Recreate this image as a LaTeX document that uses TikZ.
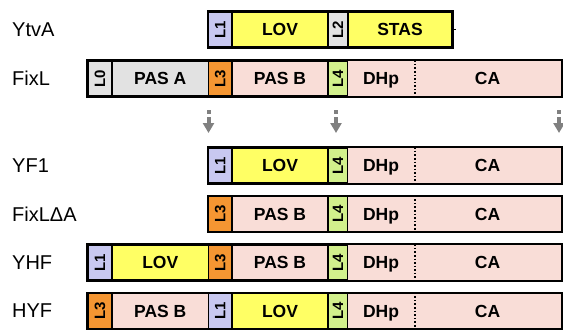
\documentclass[tikz,border=0pt]{standalone}
\usepackage{fontspec}
\setmainfont{Liberation Sans}
\usetikzlibrary{arrows.meta}

% domain colours
\definecolor{linkA}{RGB}{200,200,240}   % L1
\definecolor{lovY}{RGB}{255,255,100}    % LOV, STAS
\definecolor{greyD}{RGB}{226,226,226}   % L0, L2, PAS A
\definecolor{linkO}{RGB}{245,150,50}    % L3
\definecolor{pasP}{RGB}{249,221,215}    % PAS B, DHp, CA
\definecolor{linkG}{RGB}{210,240,140}   % L4
\definecolor{arrowG}{RGB}{128,128,128}

\tikzset{
  segbase/.style={draw=black, line width=1.7bp, minimum height=35bp, inner sep=0pt},
  seg/.style={segbase, text height=12.6bp, text depth=0pt,
              font=\fontsize{17.5bp}{20bp}\selectfont\bfseries},
  seglink/.style={segbase, font=\fontsize{15bp}{17bp}\selectfont\bfseries},
  rowframe/.style={draw=black, line width=2.1bp},
  rowname/.style={anchor=west, inner sep=0pt, font=\fontsize{20bp}{24bp}\selectfont},
  splitarrow/.style={draw=arrowG, line width=4bp, dash pattern=on 4bp off 3bp on 30bp,
                     -{Triangle[width=11bp,length=10bp]}},
}

% \domain{name}{x-left}{x-right}{y-centre}{fill}{label}
\newcommand\domain[6]{%
  \node[seg, fill=#5, minimum width={(#3-#2)*1bp}] (#1) at ({(#2+#3)/2},#4) {#6};}
% \linker: narrow linker segment with a vertical label
\newcommand\linker[6]{%
  \node[seglink, fill=#5, minimum width={(#3-#2)*1bp}] (#1) at ({(#2+#3)/2},#4) {\rotatebox{90}{#6}};}
% \hkc: DHp + CA catalytic part, split by a dotted line
\newcommand\hkc[2]{%
  \node[seg, draw=none, fill=pasP, minimum width=66bp] (#1dhp) at (381,#2) {DHp};
  \node[seg, draw=none, fill=pasP, minimum width=147bp] (#1ca) at (487.5,#2) {CA};
  \draw[black, line width=1.6bp, dotted] (#1dhp.north east) -- (#1dhp.south east);}

\begin{document}
\begin{tikzpicture}[x=1bp, y=-1bp]
\useasboundingbox (0,0) rectangle (563,332);

% ---- YtvA ----
\node[rowname] (nYtvA) at (12,29.5) {YtvA};
\linker{ytLa}{208.5}{232}{29.5}{linkA}{L1}
\domain{ytLOV}{232}{328}{29.5}{lovY}{LOV}
\linker{ytLb}{328}{348}{29.5}{greyD}{L2}
\domain{ytSTAS}{348}{452}{29.5}{lovY}{STAS}
\draw[rowframe] (ytLa.north west) rectangle (ytSTAS.south east);
\coordinate (ytEnd) at ([xshift=3bp]ytSTAS.east);
\draw[black, line width=1bp] (ytSTAS.east) -- (ytEnd);

% ---- FixL ----
\node[rowname] (nFixL) at (12,78.5) {FixL};
\linker{fxLz}{88}{112}{78.5}{greyD}{L0}
\domain{fxPASA}{112}{208.5}{78.5}{greyD}{PAS A}
\linker{fxLc}{208.5}{232}{78.5}{linkO}{L3}
\domain{fxPASB}{232}{328}{78.5}{pasP}{PAS B}
\linker{fxLd}{328}{348}{78.5}{linkG}{L4}
\hkc{fx}{78.5}
\draw[rowframe] (fxLz.north west) rectangle (fxca.south east);

% ---- split points ----
\coordinate (sa1) at (208.5,110); \coordinate (sa2) at (208.5,133);
\coordinate (sb1) at (336,110);   \coordinate (sb2) at (336,133);
\coordinate (sc1) at (559,110);   \coordinate (sc2) at (559,133);
\draw[splitarrow] (sa1) -- (sa2);
\draw[splitarrow] (sb1) -- (sb2);
\draw[splitarrow] (sc1) -- (sc2);

% ---- YF1 ----
\node[rowname] (nYF1) at (12,165.5) {YF1};
\linker{yfLa}{208.5}{232}{165.5}{linkA}{L1}
\domain{yfLOV}{232}{328}{165.5}{lovY}{LOV}
\linker{yfLd}{328}{348}{165.5}{linkG}{L4}
\hkc{yf}{165.5}
\draw[rowframe] (yfLa.north west) rectangle (yfca.south east);

% ---- FixL delta A ----
\node[rowname] (nFixLdA) at (12,214) {FixLΔA};
\linker{daLc}{208.5}{232}{214}{linkO}{L3}
\domain{daPASB}{232}{328}{214}{pasP}{PAS B}
\linker{daLd}{328}{348}{214}{linkG}{L4}
\hkc{da}{214}
\draw[rowframe] (daLc.north west) rectangle (daca.south east);

% ---- YHF ----
\node[rowname] (nYHF) at (12,262.5) {YHF};
\linker{yhLa}{88}{112}{262.5}{linkA}{L1}
\domain{yhLOV}{112}{208.5}{262.5}{lovY}{LOV}
\linker{yhLc}{208.5}{232}{262.5}{linkO}{L3}
\domain{yhPASB}{232}{328}{262.5}{pasP}{PAS B}
\linker{yhLd}{328}{348}{262.5}{linkG}{L4}
\hkc{yh}{262.5}
\draw[rowframe] (yhLa.north west) rectangle (yhca.south east);

% ---- HYF ----
\node[rowname] (nHYF) at (12,311) {HYF};
\linker{hyLc}{88}{112}{311}{linkO}{L3}
\domain{hyPASB}{112}{208.5}{311}{pasP}{PAS B}
\linker{hyLa}{208.5}{232}{311}{linkA}{L1}
\domain{hyLOV}{232}{328}{311}{lovY}{LOV}
\linker{hyLd}{328}{348}{311}{linkG}{L4}
\hkc{hy}{311}
\draw[rowframe] (hyLc.north west) rectangle (hyca.south east);
\end{tikzpicture}
\end{document}
